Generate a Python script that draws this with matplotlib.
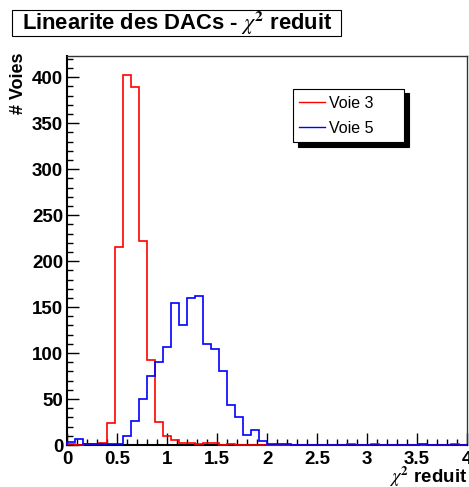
import numpy as np
import matplotlib
matplotlib.use('Agg')
import matplotlib.pyplot as plt
from matplotlib.patches import Rectangle
from matplotlib.lines import Line2D
from matplotlib.ticker import MultipleLocator, FormatStrFormatter

plt.rcParams['font.family'] = ['Liberation Sans', 'DejaVu Sans']
plt.rcParams['mathtext.fontset'] = 'stix'

# reduced chi2 of the DAC linearity fit, 50 bins of 0.08 from 0 to 4
bin_edges = np.linspace(0, 4, 51)
voie3 = [1, 0, 1, 1, 2, 24, 215, 403, 389, 222,
         92, 25, 10, 5, 2, 2, 1, 2, 2, 0,
         1, 0, 0, 0, 0, 0, 0, 0, 0, 0,
         0, 0, 0, 0, 0, 1, 0, 0, 1, 0,
         0, 0, 0, 0, 0, 0, 0, 0, 1, 0]
voie5 = [3, 7, 1, 1, 1, 1, 1, 10, 26, 50,
         75, 90, 107, 155, 130, 160, 162, 110, 104, 81,
         44, 31, 11, 16, 4, 1, 1, 1, 0, 0,
         0, 0, 0, 0, 0, 0, 0, 0, 0, 0,
         0, 0, 0, 0, 1, 0, 0, 0, 0, 0]
labels = ['Voie 3', 'Voie 5']
colours = ['#ff0000', '#0000ff']

W, H = 469, 487
fig = plt.figure(figsize=(W / 100, H / 100), dpi=100)
ax = fig.add_axes([67.3 / W, 42 / H, 399.7 / W, 389 / H])

for vals, c in zip([voie3, voie5], colours):
    ax.stairs(vals, bin_edges, baseline=0, color=c, lw=1.2, zorder=3, clip_on=False)

ax.set_xlim(0, 4)
ax.set_ylim(0, max(voie3) * 1.05)

ax.xaxis.set_major_locator(MultipleLocator(0.5))
ax.xaxis.set_minor_locator(MultipleLocator(0.1))
ax.xaxis.set_major_formatter(FormatStrFormatter('%g'))
ax.yaxis.set_major_locator(MultipleLocator(50))
ax.yaxis.set_minor_locator(MultipleLocator(10))

ax.tick_params(which='both', direction='in', top=False, right=False, width=1)
ax.tick_params(which='major', length=8.5)
ax.tick_params(which='minor', length=4.3)
ax.tick_params(axis='x', pad=4)
ax.tick_params(axis='y', pad=3)
for lab in ax.get_xticklabels() + ax.get_yticklabels():
    lab.set_fontsize(13.5)
    lab.set_fontweight('bold')

for side in ['left', 'bottom']:
    ax.spines[side].set_linewidth(1.5)
for side in ['top', 'right']:
    ax.spines[side].set_linewidth(1.0)
    ax.spines[side].set_color('#333333')

ax.set_xlabel(r'$\chi^{\mathbf{2}}$ reduit', loc='right', fontsize=13.5, fontweight='bold')
ax.xaxis.set_label_coords(1.0, -0.051)
ax.set_ylabel('# Voies', loc='top', fontsize=13, fontweight='bold')
ax.yaxis.set_label_coords(-0.1, 1.01)

# legend with solid drop shadow
handles = [Line2D([], [], color=c, lw=1) for c in colours]
leg = ax.legend(handles, labels, loc='upper left', mode='expand',
                bbox_to_anchor=(292.7 / W, 1 - 89.3 / H, (404 - 292.7) / W, 0),
                bbox_transform=fig.transFigure, fontsize=11.5,
                handlelength=1.6, handletextpad=0.3, borderpad=0.4,
                labelspacing=0.65, fancybox=False, framealpha=1,
                edgecolor='black', borderaxespad=0,
                shadow={'color': 'black', 'alpha': 1, 'ox': 3.5, 'oy': -3})
leg.get_frame().set_linewidth(0.8)

# title box
fig.patches.append(Rectangle((12 / W, 1 - 36 / H), (341 - 12) / W, 26 / H,
                             transform=fig.transFigure, facecolor='white',
                             edgecolor='black', lw=0.8))
fig.text(22 / W, 1 - 23 / H, r'Linearite des DACs - $\chi^{\mathbf{2}}$ reduit',
         fontsize=15.8, fontweight='bold', va='center', ha='left')

fig.savefig('out.png', dpi=100)
